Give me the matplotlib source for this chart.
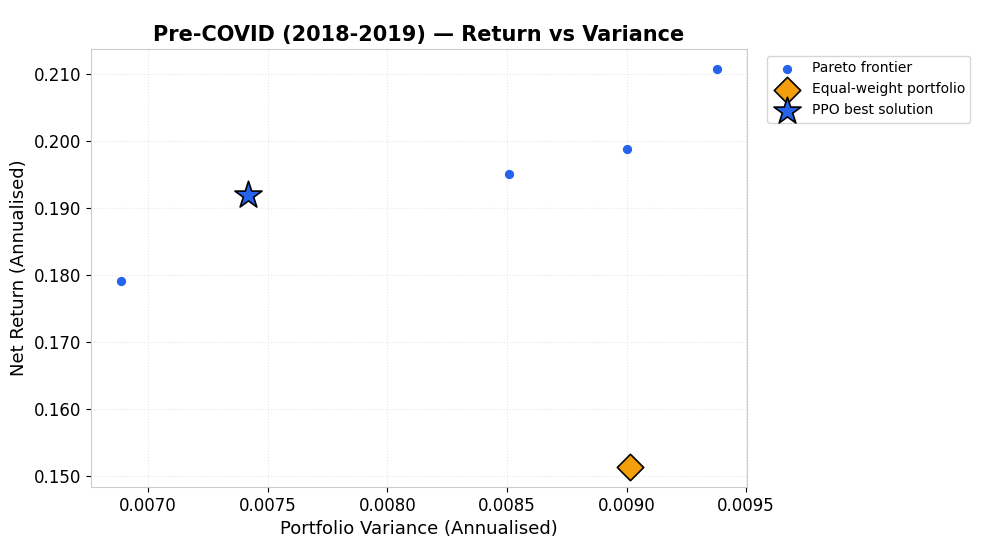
import matplotlib
matplotlib.use("Agg")
import matplotlib.pyplot as plt

# Pareto frontier points (variance, net return)
pareto_var = [0.006886, 0.008507, 0.009003, 0.009379]
pareto_ret = [0.17915, 0.1951, 0.1988, 0.2108]

# benchmark portfolios
ew_var, ew_ret = 0.009016, 0.1513
ppo_var, ppo_ret = 0.007419, 0.19196

fig = plt.figure(figsize=(9.81, 5.38), dpi=100)
ax = fig.add_subplot(1, 1, 1)
fig.subplots_adjust(left=91/981, right=747/981, top=1-49/538, bottom=1-487/538)

ax.scatter(pareto_var, pareto_ret, color="#2563eb", s=32, zorder=3, label="Pareto frontier")
ax.scatter([ew_var], [ew_ret], color="#f59e0b", marker="D", s=180, edgecolor="black",
           linewidth=1.2, zorder=4, label="Equal-weight portfolio")
ax.scatter([ppo_var], [ppo_ret], color="#2563eb", marker="*", s=420, edgecolor="black",
           linewidth=1.2, zorder=5, label="PPO best solution")

ax.set_title("Pre-COVID (2018-2019) \u2014 Return vs Variance", fontsize=15, fontweight="bold")
ax.set_xlabel("Portfolio Variance (Annualised)", fontsize=13)
ax.set_ylabel("Net Return (Annualised)", fontsize=13)
ax.set_xticks([0.0070, 0.0075, 0.0080, 0.0085, 0.0090, 0.0095])
ax.set_xticklabels(["0.0070", "0.0075", "0.0080", "0.0085", "0.0090", "0.0095"])
ax.set_yticks([0.150, 0.160, 0.170, 0.180, 0.190, 0.200, 0.210])
ax.set_yticklabels(["0.150", "0.160", "0.170", "0.180", "0.190", "0.200", "0.210"])
ax.tick_params(labelsize=12)
ax.grid(True, linestyle=":", color="#e6e6e6", linewidth=0.8)
for sp in ax.spines.values():
    sp.set_color("#cccccc")

ax.legend(loc="upper left", bbox_to_anchor=(1.02, 1), fontsize=10)

fig.savefig("out.png")
